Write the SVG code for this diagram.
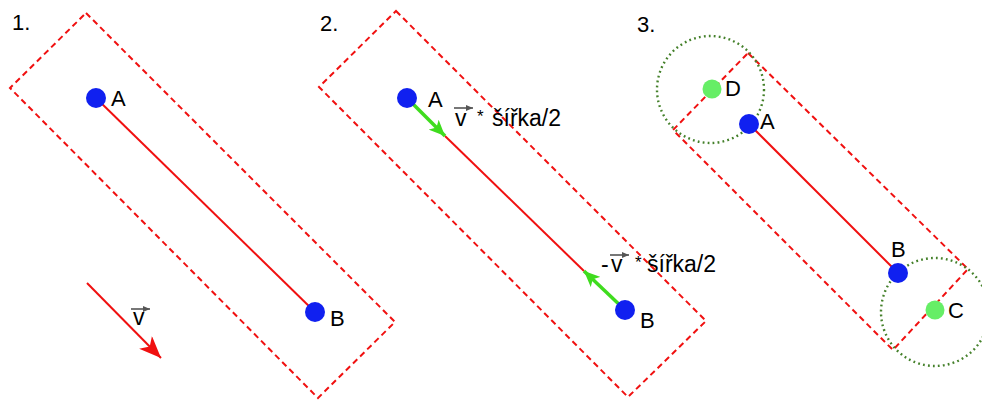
<svg xmlns="http://www.w3.org/2000/svg" width="982" height="403" viewBox="0 0 982 403">
<style>
.rect{fill:none;stroke:#f01010;stroke-width:2;stroke-dasharray:6 4}
.seg{stroke:#f01010;stroke-width:2;fill:none}
.pt{fill:#1020f0}
.gp{fill:#66ee66}
.circ{fill:none;stroke:#44802a;stroke-width:2.4;stroke-dasharray:1.8 3.2}
.ga{stroke:#3fdc1e;stroke-width:3.5;fill:none}
.vo{stroke:#555;stroke-width:1.6;fill:none}
text{font-family:"Liberation Sans",Arial,sans-serif;fill:#000}
.lb{font-size:22px}
.fm{font-size:23px}
.st{font-size:17px}
</style>
<defs>
<marker id="redHead" markerUnits="userSpaceOnUse" viewBox="0 0 22 18" refX="22" refY="9" markerWidth="22" markerHeight="18" orient="auto"><path d="M0,0 L22,9 L0,18 L6,9 z" fill="#f01010"/></marker>
<marker id="greenHead" markerUnits="userSpaceOnUse" viewBox="0 0 16 14" refX="16" refY="7" markerWidth="16" markerHeight="14" orient="auto"><path d="M0,0 L16,7 L0,14 L4,7 z" fill="#3fdc1e"/></marker>
<marker id="grayHead" markerUnits="userSpaceOnUse" viewBox="0 0 7 6" refX="7" refY="3" markerWidth="7" markerHeight="6" orient="auto"><path d="M0,0 L7,3 L0,6 z" fill="#555"/></marker>
</defs>

<g id="panel1">
<text class="lb" x="12" y="30">1.</text>
<polygon class="rect" points="86,13 395,322 318,398 10,88"/>
</g>
<g id="panel2">
<text class="lb" x="320" y="31">2.</text>
<polygon class="rect" points="396,11 706,321 628,397 319,87"/>
</g>
<g id="panel3">
<text class="lb" x="637" y="32">3.</text>
<polygon class="rect" points="748,53 968,269 893,350 673,130"/>
<circle id="circleD" class="circ" cx="710.5" cy="89.5" r="53.5"/>
<circle id="circleC" class="circ" cx="935" cy="312" r="54"/>
</g>

<g id="connectors">
<line class="seg" x1="96" y1="98" x2="315" y2="312"/>
<line class="seg" x1="87" y1="283" x2="161" y2="358" marker-end="url(#redHead)"/>
<line class="seg" x1="445" y1="136" x2="584" y2="271"/>
<line class="ga" x1="407" y1="98" x2="445" y2="136" marker-end="url(#greenHead)"/>
<line class="ga" x1="625" y1="310" x2="584" y2="271" marker-end="url(#greenHead)"/>
<line class="seg" x1="749" y1="124" x2="898" y2="273"/>
</g>

<g id="node-1A"><circle class="pt" cx="96" cy="98" r="10"/><text class="lb" x="111" y="106">A</text></g>
<g id="node-1B"><circle class="pt" cx="315" cy="312" r="10"/><text class="lb" x="330" y="326">B</text></g>
<g id="label-v1"><text class="fm" x="133" y="325">v</text><line class="vo" x1="131" y1="309" x2="150" y2="309" marker-end="url(#grayHead)"/></g>

<g id="node-2A"><circle class="pt" cx="407" cy="98" r="10"/><text class="lb" x="428" y="107">A</text></g>
<g id="node-2B"><circle class="pt" cx="625" cy="310" r="10"/><text class="lb" x="640" y="328">B</text></g>
<g id="label-v2a"><text class="fm" x="455" y="126">v</text><line class="vo" x1="454" y1="108" x2="473" y2="108" marker-end="url(#grayHead)"/><text class="st" x="477" y="122">*</text><text class="fm" x="492" y="126">šířka/2</text></g>
<g id="label-v2b"><text class="fm" x="601" y="272">-</text><text class="fm" x="611" y="272">v</text><line class="vo" x1="610" y1="255" x2="629" y2="255" marker-end="url(#grayHead)"/><text class="st" x="635" y="268">*</text><text class="fm" x="647" y="272">šířka/2</text></g>

<g id="node-3D"><circle class="gp" cx="712" cy="89" r="9.5"/><text class="lb" x="725" y="96">D</text></g>
<g id="node-3A"><circle class="pt" cx="749" cy="124" r="10"/><text class="lb" x="760" y="129">A</text></g>
<g id="node-3B"><circle class="pt" cx="898" cy="273" r="10"/><text class="lb" x="891" y="257">B</text></g>
<g id="node-3C"><circle class="gp" cx="935" cy="310" r="9.5"/><text class="lb" x="948" y="318">C</text></g>
</svg>
